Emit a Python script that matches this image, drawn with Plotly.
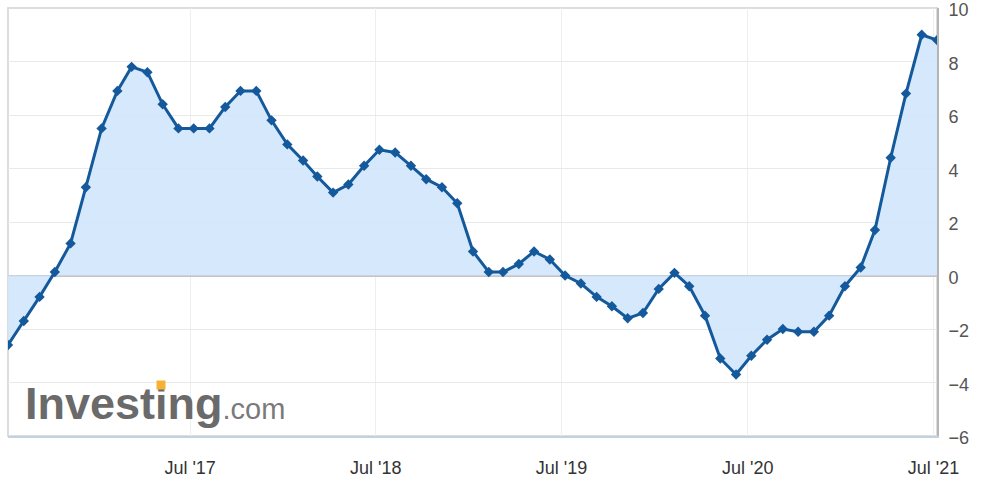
import plotly.graph_objects as go
import pandas as pd

# monthly observations (plotted at the release day of each month)
dates = pd.date_range("2016-07-01", "2021-07-01", freq="MS") + pd.Timedelta(days=7)
values = [-2.6, -1.7, -0.8, 0.13, 1.2, 3.3, 5.5, 6.9, 7.8, 7.6,
          6.4, 5.5, 5.5, 5.5, 6.3, 6.9, 6.9, 5.8, 4.9, 4.3,
          3.7, 3.1, 3.4, 4.1, 4.7, 4.6, 4.1, 3.6, 3.3, 2.7,
          0.9, 0.13, 0.13, 0.43, 0.9, 0.6, 0.0, -0.3, -0.8, -1.15,
          -1.6, -1.4, -0.5, 0.1, -0.4, -1.5, -3.1, -3.7, -3.0, -2.4,
          -2.0, -2.1, -2.1, -1.5, -0.4, 0.3, 1.7, 4.4, 6.8, 9.0, 8.8]
tick_dates = ["2017-07-01", "2018-07-01", "2019-07-01", "2020-07-01", "2021-07-01"]
tick_labels = ["Jul '17", "Jul '18", "Jul '19", "Jul '20", "Jul '21"]
y_ticks = [-6, -4, -2, 0, 2, 4, 6, 8, 10]

fig = go.Figure()
fig.add_trace(go.Scatter(
    x=dates, y=values, mode="lines+markers",
    line=dict(color="#14599c", width=3),
    marker=dict(symbol="diamond", size=8, color="#14599c"),
    fill="tozeroy", fillcolor="rgba(210,230,252,0.9)",
    hoverinfo="x+y", showlegend=False,
))

fig.update_layout(
    width=986, height=493,
    margin=dict(l=8, r=49, t=8, b=57, autoexpand=False),
    paper_bgcolor="white", plot_bgcolor="white",
    font=dict(family="Liberation Sans, Arial, sans-serif"),
    xaxis=dict(
        type="date", range=[dates[0], dates[-1]], automargin=False,
        tickvals=tick_dates, ticktext=tick_labels,
        showgrid=True, gridcolor="#eeeeee", gridwidth=1,
        showline=True, linecolor="#c3d1e0", linewidth=2,
        ticks="", tickfont=dict(size=18, color="#333333"),
        ticklabelstandoff=14, zeroline=False, ticklabeloverflow="allow",
    ),
    yaxis=dict(
        side="right", range=[-6, 10], tickvals=y_ticks, automargin=False,
        showgrid=True, gridcolor="#e9e9e9", gridwidth=1,
        zeroline=True, zerolinecolor="#c4c4c4", zerolinewidth=2,
        showline=True, linecolor="#b5b5b5", linewidth=2,
        ticks="", tickfont=dict(size=18, color="#555555"),
        ticklabelstandoff=6, ticklabelshift=2, ticklabeloverflow="allow",
    ),
    shapes=[
        dict(type="rect", xref="paper", yref="paper", x0=0, x1=1, y0=0, y1=1,
             line=dict(color="#dddddd", width=2), layer="below"),
    ],
    annotations=[
        dict(xref="paper", yref="paper", x=0.016, y=0.075,
             xanchor="left", yanchor="middle", showarrow=False,
             text="<b>Investing</b><span style='font-size:29px;color:#7a7a7a'>.com</span>",
             font=dict(size=45, color="#6a6a6a", family="Liberation Sans, Arial, sans-serif")),
        dict(xref="paper", yref="paper", x=0.1652, y=0.1192,
             xanchor="center", yanchor="middle", showarrow=False,
             text=" ", width=8, height=8, bgcolor="#f5b335", borderpad=0,
             font=dict(size=4)),
    ],
)

fig.write_html("out.html", config={"displayModeBar": False},
               post_script="document.body.style.margin='0';document.body.style.overflow='hidden';")
